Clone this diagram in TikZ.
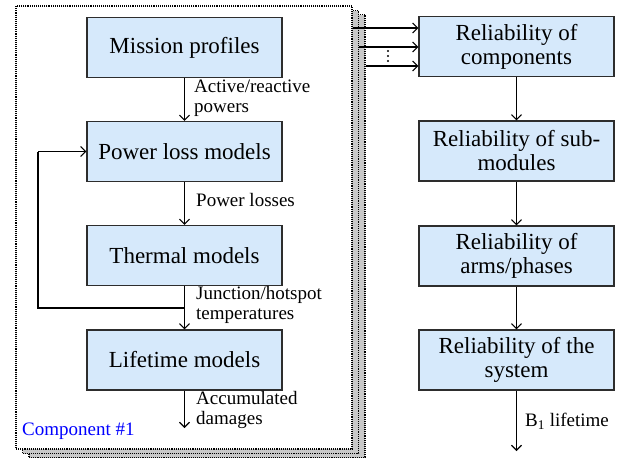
\documentclass[tikz,border=0pt]{standalone}
\usepackage{fontspec}
\setmainfont{Liberation Serif}
\usetikzlibrary{arrows.meta,positioning}
\definecolor{boxfill}{RGB}{214,233,251}
\definecolor{boxline}{RGB}{45,45,45}
\definecolor{sheetgray}{RGB}{200,200,200}
\begin{document}
\begin{tikzpicture}[x=1pt,y=-1pt,
  block/.style={draw=boxline,line width=1.2pt,fill=boxfill,minimum width=195pt,
    minimum height=60pt,inner sep=0pt,align=center,
    font=\fontsize{23}{24}\selectfont},
  sheet/.style={draw=black,line width=1.1pt,densely dotted,minimum width=336pt,
    minimum height=443pt,inner sep=0pt},
  arr/.style={draw=black,line width=1.1pt,-{Straight Barb[length=5pt,width=10pt,line width=1.1pt]}},
  note/.style={font=\fontsize{19}{19.5}\selectfont,align=left,inner sep=0pt,anchor=west}]
\useasboundingbox (0,0) rectangle (624,458);

% stacked component sheets
\node[sheet,fill=sheetgray] (f3) at (197,236) {};
\node[sheet,fill=sheetgray] (f2) at (190.5,232) {};
\node[sheet,fill=white] (f1) at (184,227.5) {};

% component-level chain
\node[block] (mp) at (184.5,47.5) {Mission profiles};
\node[block] (pl) at (184.5,151.5) {Power loss models};
\node[block] (th) at (184.5,255.5) {Thermal models};
\node[block] (lt) at (184.5,360) {Lifetime models};

% system-level chain
\node[block] (rc) at (516.5,46.5) {Reliability of\\components};
\node[block] (rs) at (516.5,151) {Reliability of sub-\\modules};
\node[block] (ra) at (516.5,256) {Reliability of\\arms/phases};
\node[block] (ry) at (516.5,360) {Reliability of the\\system};

\coordinate (dmg) at (184.5,428);
\coordinate (b1) at (516.5,451);
\coordinate (loop) at (184.5,308);

\draw[arr] (mp) -- (pl);
\draw[arr] (pl) -- (th);
\draw[arr] (th) -- (lt);
\draw[arr] (lt) -- (dmg);
\draw[line width=1.1pt] (loop) -| (38,151.5);
\draw[arr] (38,151.5) -- (pl.west);

\draw[arr] (rc) -- (rs);
\draw[arr] (rs) -- (ra);
\draw[arr] (ra) -- (ry);
\draw[arr] (ry) -- (b1);

% inputs from the component sheets
\draw[arr] (f1.east |- 0,28) -- (rc.west |- 0,28);
\draw[arr] (f2.east |- 0,47) -- (rc.west |- 0,47);
\draw[arr] (f3.east |- 0,66) -- (rc.west |- 0,66);
\foreach \yy in {51,56,61} \fill (388,\yy) circle (1.2pt);

% labels
\node[note] (l1) at (194,98) {Active/reactive\\powers};
\node[note] (l2) at (196,200) {Power losses};
\node[note] (l3) at (196,305) {Junction/hotspot\\temperatures};
\node[note] (l4) at (196,410) {Accumulated\\damages};
\node[note,text=blue] (l5) at (22,431) {Component \#1};
\node[note] (l6) at (525,421) {B\textsubscript{1} lifetime};
\end{tikzpicture}
\end{document}
